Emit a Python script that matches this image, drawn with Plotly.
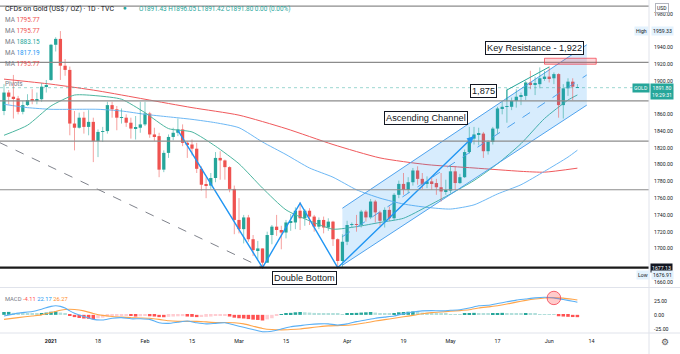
import plotly.graph_objects as go
import pandas as pd

W, H = 680, 354
UI_FONT = "Roboto"
BOX_FONT = "Liberation Sans"

# ---------------- calendar ----------------
holidays = ["2020-12-25", "2021-01-01"]
days = [d.strftime("%Y-%m-%d") for d in pd.bdate_range("2020-12-16", "2021-06-30")]
days = [d for d in days if d not in holidays]
pos = {d: i for i, d in enumerate(days)}

tick_dates = ["2021-01-04", "2021-01-18", "2021-02-01", "2021-02-15", "2021-03-01", "2021-03-15",
              "2021-04-01", "2021-04-19", "2021-05-03", "2021-05-17", "2021-06-01", "2021-06-14"]
tick_labels = ["<b>2021</b>", "18", "Feb", "15", "Mar", "15", "Apr", "19", "May", "17", "Jun", "14"]

# ---------------- OHLC (Dec 17 2020 -> Jun 9 2021) ----------------
opens = [1864, 1886, 1881, 1879, 1863, 1871, 1878, 1877, 1878, 1893,
         1901, 1943, 1950, 1918, 1913, 1849, 1844, 1856, 1845, 1851,
         1828, 1839, 1840, 1871, 1866, 1856, 1856, 1850, 1843, 1844,
         1848, 1861, 1836, 1834, 1794, 1814, 1833, 1838, 1842, 1826,
         1824, 1819, 1795, 1776, 1775, 1784, 1808, 1805, 1797, 1771,
         1734, 1723, 1737, 1711, 1698, 1700, 1683, 1716, 1726, 1722,
         1719, 1731, 1731, 1745, 1736, 1745, 1738, 1726, 1734, 1725,
         1732, 1711, 1685, 1708, 1728, 1729, 1728, 1744, 1737, 1756,
         1743, 1733, 1746, 1736, 1764, 1777, 1770, 1779, 1793, 1783,
         1777, 1780, 1778, 1773, 1768, 1769, 1792, 1778, 1785, 1815,
         1831, 1836, 1837, 1816, 1827, 1843, 1867, 1869, 1869, 1876,
         1881, 1882, 1898, 1896, 1896, 1903, 1905, 1903, 1908, 1871,
         1891, 1899, 1891.43]
highs = [1896, 1889, 1907, 1882, 1876, 1884, 1890, 1886, 1897, 1901,
         1944, 1952, 1959.33, 1926, 1917, 1864, 1862, 1863, 1865, 1856,
         1842, 1845, 1875, 1875, 1870, 1867, 1860, 1856, 1858, 1875,
         1875, 1863, 1844, 1838, 1817, 1836, 1844, 1855, 1848, 1828,
         1830, 1826, 1798, 1785, 1790, 1815, 1816, 1806, 1798, 1775,
         1760, 1740, 1740, 1716, 1709, 1700, 1720, 1728, 1740, 1727,
         1734, 1741, 1749, 1755, 1747, 1748, 1740, 1737, 1738, 1736,
         1733, 1712, 1717, 1733, 1731, 1740, 1746, 1746, 1759, 1758,
         1745, 1749, 1750, 1766, 1781, 1790, 1785, 1796, 1798, 1790,
         1786, 1785, 1783, 1790, 1782, 1799, 1798, 1789, 1818, 1845,
         1845, 1844, 1839, 1829, 1845, 1869, 1875, 1891, 1880, 1890,
         1886, 1900, 1912, 1905, 1916, 1912, 1917, 1910, 1909, 1896,
         1903, 1903, 1896.05]
lows = [1859, 1872, 1855, 1860, 1860, 1870, 1872, 1872, 1875, 1886,
        1900, 1935, 1901, 1906, 1835, 1817, 1843, 1837, 1835, 1803,
        1809, 1827, 1837, 1856, 1841, 1849, 1845, 1831, 1830, 1838,
        1846, 1832, 1828, 1785, 1791, 1808, 1829, 1834, 1822, 1808,
        1811, 1790, 1769, 1760, 1771, 1779, 1782, 1782, 1767, 1717,
        1718, 1706, 1708, 1691, 1687, 1676.91, 1683, 1705, 1715, 1699,
        1712, 1721, 1723, 1722, 1727, 1728, 1720, 1723, 1718, 1721,
        1703, 1678, 1677.13, 1704, 1725, 1720, 1725, 1732, 1735, 1731,
        1727, 1725, 1733, 1734, 1760, 1764, 1766, 1775, 1776, 1771,
        1772, 1770, 1764, 1756, 1764, 1766, 1770, 1777, 1784, 1813,
        1824, 1823, 1808, 1812, 1824, 1837, 1860, 1850, 1865, 1868,
        1871, 1877, 1890, 1883, 1891, 1900, 1898, 1896, 1856, 1855,
        1882, 1877, 1891.42]
closes = [1886, 1881, 1879, 1863, 1871, 1877, 1877, 1878, 1893, 1895,
          1943, 1950, 1918, 1913, 1849, 1844, 1856, 1845, 1851, 1828,
          1839, 1840, 1871, 1866, 1856, 1856, 1850, 1843, 1844, 1848,
          1861, 1836, 1834, 1794, 1814, 1833, 1838, 1842, 1826, 1824,
          1819, 1795, 1776, 1775, 1784, 1808, 1805, 1797, 1771, 1734,
          1723, 1737, 1711, 1698, 1700, 1683, 1716, 1726, 1722, 1719,
          1731, 1731, 1745, 1736, 1745, 1738, 1726, 1734, 1725, 1732,
          1711, 1685, 1708, 1728, 1729, 1728, 1744, 1737, 1756, 1743,
          1733, 1746, 1736, 1764, 1777, 1770, 1779, 1793, 1783, 1777,
          1780, 1778, 1773, 1768, 1769, 1792, 1778, 1785, 1815, 1831,
          1836, 1837, 1816, 1827, 1843, 1867, 1869, 1869, 1876, 1881,
          1882, 1898, 1896, 1896, 1903, 1905, 1903, 1908, 1871, 1891,
          1899, 1893, 1891.80]

n = len(closes)
candle_dates = days[1:1 + n]
xs = [pos[d] for d in candle_dates]

# ---------------- moving averages (sampled, candle index) ----------------
ma20_idx = [0, 5, 10, 15, 20, 25, 30, 35, 40, 45, 50, 55, 60, 65, 70, 75, 80, 85, 90, 95, 100, 105, 110, 115, 120, 122]
ma20 = [1835, 1847, 1870, 1883, 1882, 1878, 1862, 1843, 1839, 1822, 1801, 1772, 1746, 1733, 1723,
        1726, 1731, 1736, 1750, 1765, 1781, 1801, 1825, 1855, 1877, 1883.15]
ma50 = [1872, 1868, 1866, 1866, 1866, 1864, 1860, 1857, 1854, 1850, 1844, 1827, 1812, 1796, 1785,
        1770, 1760, 1753, 1749, 1747, 1752, 1765, 1776, 1792, 1809, 1817.19]
ma100_idx = [0, 10, 20, 30, 40, 50, 60, 70, 80, 90, 100, 110, 115, 122]
ma100 = [1902, 1896, 1888, 1878, 1868, 1859, 1843, 1824, 1808, 1800, 1796, 1792, 1791, 1795.77]

# ---------------- MACD ----------------
macd_hist = [5.0, 5.2, 3.5, 2.8, 2.3, 2.0, 1.7, 1.5, 3.0, 4.0,
             5.5, 6.0, 4.0, 2.0, -1.5, -4.0, -5.5, -6.5, -7.0, -8.0,
             -6.0, -5.0, -3.0, -2.0, -1.5, -1.0, -0.5, -2.0, -3.0, -2.5,
             -2.0, -2.5, -3.0, -4.0, -4.2, -3.5, -3.0, -2.6, -2.3, -3.0,
             -3.5, -4.0, -3.8, -3.5, -3.0, -2.0, -1.5, -1.2, -3.0, -5.0,
             -6.0, -6.5, -7.5, -8.5, -9.0, -10.0, -8.0, -6.0, -2.0, 1.0,
             2.5, 3.5, 4.5, 5.0, 4.5, 4.0, 3.4, 3.0, 2.6, 2.3,
             2.0, 1.5, 1.2, 2.5, 3.0, 3.5, 4.0, 4.5, 5.0, 4.0,
             3.0, 2.5, 2.0, 3.0, 4.5, 5.0, 5.5, 6.0, 5.0, 4.0,
             3.5, 3.0, 2.5, 2.0, 1.5, 1.3, 1.1, 1.0, 2.0, 3.0,
             3.5, 3.0, 2.0, 1.5, 2.0, 3.0, 3.5, 3.0, 2.5, 2.0,
             1.8, 2.5, 2.0, 1.5, 1.2, 1.0, 0.6, 0.3, -2.5, -3.0,
             -3.5, -3.9, -4.11]
macd_idx = [0, 3, 6, 8, 10, 11, 12, 13, 14, 15, 17, 19, 21, 23, 25, 27, 29, 31, 33, 35, 37, 39, 41, 43,
            45, 47, 49, 51, 53, 55, 57, 59, 61, 63, 65, 67, 69, 71, 73, 75, 77, 79, 81, 83, 85, 87, 89,
            91, 93, 95, 97, 99, 101, 103, 105, 107, 109, 111, 113, 115, 117, 119, 121, 122]
macd_line = [-2, 3, 6, 10, 15, 16, 15, 12, 7, 3, -3, -8, -9, -6, -5, -7, -7, -8, -14, -15, -13, -11, -14, -16,
             -15, -14, -18, -22, -26, -30, -29, -25, -21, -19, -17, -16, -16, -18, -16, -12, -9, -6, -4, -2, 2, 5, 7,
             7.5, 7, 8, 9, 12, 16, 17, 20, 23, 26, 28, 30, 31, 30, 27, 24, 22.17]
signal_line = [-8, -5, -2, 0, 4, 6, 8, 9.5, 9.8, 9.5, 7, 2.5, -1, -3, -4, -5, -5.5, -6, -8, -10.5, -11.5, -11.5, -11.5, -12.5,
               -13.5, -13.5, -14, -16, -20, -24, -26, -26.5, -26, -25, -23, -21, -19.5, -19, -18.5, -16.5, -14, -11, -8.5, -6, -3.5, -1, 2,
               4, 5, 6.5, 7.5, 9, 12, 14, 16, 19, 22.5, 25.5, 28, 29.8, 30.2, 29.5, 27.5, 26.27]

# ---------------- drawings (date, price anchors) ----------------
level_prices = [1989, 1922, 1876, 1828, 1770]
support_price = 1677.13
zigzag_dates = ["2021-02-10", "2021-03-08", "2021-03-18", "2021-03-30", "2021-05-10"]
zigzag_prices = [1841, 1677, 1754, 1677, 1834]
diag_dates = ["2020-12-16", "2021-03-08"]
diag_prices = [1826.5, 1677]
chan_dates = ["2021-03-31", "2021-06-11"]
chan_upper = [1748, 1943]
chan_lower = [1680, 1871]
chan_mid = [1714, 1907]
angle_dates = ["2021-05-19", "2021-05-19", "2021-06-01"]
angle_prices = [1876, 1889, 1916.5]
res_dates = ["2021-05-31", "2021-06-15"]
res_prices = [1919.8, 1926.9]

UP, DN = "#26A69A", "#EF5350"
UP_W, DN_W = "rgba(38,166,154,0.55)", "rgba(239,83,80,0.55)"

PX = 649  # right edge of plotting area
XR = [pos[candle_dates[0]] - 0.85, pos[candle_dates[0]] - 0.85 + PX / 4.7]

fig = go.Figure()

# MA lines
fig.add_trace(go.Scatter(x=[xs[k] for k in ma100_idx], y=ma100, mode="lines",
                         line=dict(color="#F0595C", width=1, shape="spline", smoothing=0.6)))
fig.add_trace(go.Scatter(x=[xs[k] for k in ma20_idx], y=ma50, mode="lines",
                         line=dict(color="#6DB8F5", width=1, shape="spline", smoothing=0.6)))
fig.add_trace(go.Scatter(x=[xs[k] for k in ma20_idx], y=ma20, mode="lines",
                         line=dict(color="#4DB6A0", width=1, shape="spline", smoothing=0.6)))

# channel
cx = [pos[d] for d in chan_dates]
fig.add_trace(go.Scatter(x=[cx[0], cx[1], cx[1], cx[0], cx[0]],
                         y=[chan_upper[0], chan_upper[1], chan_lower[1], chan_lower[0], chan_upper[0]],
                         mode="lines", fill="toself", fillcolor="rgba(33,150,243,0.18)",
                         line=dict(width=0)))
fig.add_trace(go.Scatter(x=cx, y=chan_upper, mode="lines", line=dict(color="#4FA3EE", width=1)))
fig.add_trace(go.Scatter(x=cx, y=chan_lower, mode="lines", line=dict(color="#4FA3EE", width=1)))
fig.add_trace(go.Scatter(x=cx, y=chan_mid, mode="lines", line=dict(color="#4FA3EE", width=1, dash="dash")))

# wicks
def wick(cond):
    wx, wy = [], []
    for i in range(n):
        if cond(i):
            wx += [xs[i], xs[i], None]
            wy += [lows[i], highs[i], None]
    return wx, wy

ux, uy = wick(lambda i: closes[i] >= opens[i])
dx, dy = wick(lambda i: closes[i] < opens[i])
fig.add_trace(go.Scatter(x=ux, y=uy, mode="lines", line=dict(color=UP_W, width=1)))
fig.add_trace(go.Scatter(x=dx, y=dy, mode="lines", line=dict(color=DN_W, width=1)))

# bodies
fig.add_trace(go.Bar(x=xs, y=[max(abs(c - o), 0.6) for o, c in zip(opens, closes)],
                     base=[min(o, c) for o, c in zip(opens, closes)], width=0.7,
                     marker=dict(color=[UP if c >= o else DN for o, c in zip(opens, closes)], line_width=0)))

# dashed diagonal
fig.add_trace(go.Scatter(x=[pos[d] for d in diag_dates], y=diag_prices, mode="lines",
                         line=dict(color="#80838C", width=1, dash="dash")))
# double bottom zigzag
fig.add_trace(go.Scatter(x=[pos[d] for d in zigzag_dates], y=zigzag_prices, mode="lines",
                         line=dict(color="#2196F3", width=1.4)))
# teal angle line
fig.add_trace(go.Scatter(x=[pos[d] for d in angle_dates], y=angle_prices, mode="lines",
                         line=dict(color="#26A69A", width=1)))

# MACD
hist_colors = []
for i, v in enumerate(macd_hist):
    prev = macd_hist[i - 1] if i > 0 else v
    if v >= 0:
        hist_colors.append("#26A69A" if v >= prev else "#B2DFDB")
    else:
        hist_colors.append("#FF5252" if v < prev else "#FFCDD2")
fig.add_trace(go.Bar(x=xs, y=macd_hist, width=0.75, marker=dict(color=hist_colors, line_width=0),
                     xaxis="x2", yaxis="y2"))
fig.add_trace(go.Scatter(x=[xs[k] for k in macd_idx], y=signal_line, mode="lines",
                         line=dict(color="#FFA54A", width=1.1, shape="spline", smoothing=0.5),
                         xaxis="x2", yaxis="y2"))
fig.add_trace(go.Scatter(x=[xs[k] for k in macd_idx], y=macd_line, mode="lines",
                         line=dict(color="#5AB0F5", width=1.1, shape="spline", smoothing=0.5),
                         xaxis="x2", yaxis="y2"))

shapes = []
xd_right = PX / W
for p in level_prices:
    shapes.append(dict(type="line", xref="paper", yref="y", x0=0, x1=xd_right, y0=p, y1=p,
                       line=dict(color="#8C8C8C", width=1.2)))
shapes.append(dict(type="line", xref="paper", yref="y", x0=0, x1=xd_right, y0=support_price, y1=support_price,
                   line=dict(color="#1A1A1A", width=2.2)))
shapes.append(dict(type="line", xref="paper", yref="y", x0=0, x1=xd_right, y0=closes[-1], y1=closes[-1],
                   line=dict(color="rgba(38,166,154,0.45)", width=1, dash="dot")))
# resistance rectangle
shapes.append(dict(type="rect", xref="x", yref="y", x0=pos[res_dates[0]], x1=pos[res_dates[1]],
                   y0=res_prices[0], y1=res_prices[1], fillcolor="rgba(242,54,69,0.2)",
                   line=dict(color="rgba(242,54,69,0.7)", width=1)))
# MACD cross circle
cxc = pos["2021-06-02"]
shapes.append(dict(type="circle", xref="x2", yref="y2", x0=cxc - 1.45, x1=cxc + 1.45, y0=29.8 - 11.8, y1=29.8 + 11.8,
                   fillcolor="rgba(255,82,82,0.3)", line=dict(color="rgba(242,54,69,0.75)", width=1)))
# pane separators
SEP = "#E0E3EB"
shapes.append(dict(type="line", xref="paper", yref="paper", x0=0, x1=1, y0=1 - 287.5 / H, y1=1 - 287.5 / H,
                   line=dict(color=SEP, width=1)))
shapes.append(dict(type="line", xref="paper", yref="paper", x0=0, x1=1, y0=21 / H, y1=21 / H,
                   line=dict(color=SEP, width=1)))
shapes.append(dict(type="line", xref="paper", yref="paper", x0=xd_right, x1=xd_right, y0=0, y1=1,
                   line=dict(color=SEP, width=1)))


def ann(text, x, y, size, color="#131722", xanchor="left", family=UI_FONT, **kw):
    return dict(text=text, x=x / W, y=1 - y / H, xref="paper", yref="paper", showarrow=False,
                xanchor=xanchor, yanchor="middle", font=dict(size=size, color=color, family=family), **kw)


def box(text, cx, cy):
    return dict(text=text, x=cx / W, y=1 - cy / H, xref="paper", yref="paper", showarrow=False,
                xanchor="center", yanchor="middle", bgcolor="white", bordercolor="#131722", borderwidth=1,
                borderpad=1, font=dict(size=9.2, color="#131722", family=BOX_FONT))


def plabel(text, xl, price, bg, fg="#131722", size=5.2, yref="y"):
    return dict(text=text, x=xl / W, y=price, xref="paper", yref=yref, showarrow=False, xanchor="left",
                yanchor="middle", bgcolor=bg, borderpad=1, font=dict(size=size, color=fg, family=UI_FONT))


annotations = [
    ann("CFDs on Gold (US$ / OZ) · 1D · TVC", 3, 9, 7),
    ann("●", 121, 8.5, 6.5, color="#26A69A"),
    ann("O1891.43 H1896.05 L1891.42 C1891.80 0.00 (0.00%)", 137, 9, 6.4, color="#26A69A"),
    ann("<span style='color:#787B86'>MA</span> 1795.77", 3, 20, 6.4, color="#EF5350"),
    ann("<span style='color:#787B86'>MA</span> 1795.77", 3, 31, 6.4, color="#EF5350"),
    ann("<span style='color:#787B86'>MA</span> 1883.15", 3, 42, 6.4, color="#26A69A"),
    ann("<span style='color:#787B86'>MA</span> 1817.19", 3, 53, 6.4, color="#2196F3"),
    ann("<span style='color:#787B86'>MA</span> 1795.77", 3, 64, 6.4, color="#EF5350"),
    ann("Pivots", 3, 84, 6.4, color="#787B86"),
    ann("<span style='color:#787B86'>MACD</span> <span style='color:#FF5252'>-4.11</span> "
        "<span style='color:#2196F3'>22.17</span> <span style='color:#FF8A1F'>26.27</span>", 3, 299, 5.8),
    box("Key Resistance - 1,922", 534, 48.5),
    box("1,875", 483, 91.5),
    box("Ascending Channel", 426, 117.5),
    box("Double Bottom", 304, 278),
    # right axis markers
    ann("USD", 662, 8, 5, color="#131722", xanchor="center", bgcolor="white", bordercolor="#B2B5BE",
        borderwidth=1, borderpad=1),
    plabel("High", 634, 1959.33, "#E3F2FD"),
    plabel("1959.33", 651, 1959.33, "#E3F2FD"),
    plabel("GOLD", 632, closes[-1], "#26A69A", fg="white"),
    plabel("1891.80<br>19:29:31", 650, closes[-1] - 4, "#26A69A", fg="white"),
    plabel("1677.13", 650, support_price, "#131722", fg="white"),
    plabel("Low", 636, 1676.91 - 9, "#E3F2FD"),
    plabel("1676.91", 651, 1676.91 - 9, "#E3F2FD"),
    ann("⚙", 665, 342, 9, color="#555", xanchor="center"),
    # arrowhead on zigzag
    dict(x=pos[zigzag_dates[-1]], y=zigzag_prices[-1], xref="x", yref="y",
         ax=pos[zigzag_dates[-1]] - 1.5, ay=zigzag_prices[-1] - 8.1, axref="x", ayref="y",
         showarrow=True, arrowhead=2, arrowsize=1, arrowwidth=1.4, arrowcolor="#2196F3", text=""),
]

fig.update_layout(
    width=W, height=H, margin=dict(l=0, r=0, t=0, b=0),
    paper_bgcolor="white", plot_bgcolor="white", showlegend=False, hovermode=False,
    barmode="overlay", shapes=shapes, annotations=annotations,
    xaxis=dict(domain=[0, xd_right], range=XR, anchor="y", showticklabels=False, showgrid=False,
               zeroline=False, showline=False, ticks=""),
    xaxis2=dict(domain=[0, xd_right], range=XR, anchor="y2", matches="x", showgrid=False, zeroline=False,
                showline=False, ticks="", tickvals=[pos[d] for d in tick_dates], ticktext=tick_labels,
                tickfont=dict(size=5.4, color="#131722", family=UI_FONT), ticklabelstandoff=4),
    yaxis=dict(domain=[1 - 287 / H, 1], range=[1654, 1996.4], side="right", anchor="x", showgrid=False,
               zeroline=False, showline=False, ticks="",
               tickvals=[1660, 1700, 1720, 1740, 1760, 1780, 1800, 1820, 1840, 1860, 1900, 1920, 1940, 1980],
               tickformat=".2f", tickfont=dict(size=5.2, color="#131722", family=UI_FONT), ticklabelstandoff=4),
    yaxis2=dict(domain=[21 / H, 66 / H], range=[-32.07, 47.4], side="right", anchor="x2", showgrid=False,
                zeroline=False, showline=False, ticks="", tickvals=[-25, 0, 25],
                ticktext=["-25.00", "0.00", "25.00"],
                tickfont=dict(size=5.2, color="#131722", family=UI_FONT), ticklabelstandoff=4),
)

fig.write_html("out.html")
